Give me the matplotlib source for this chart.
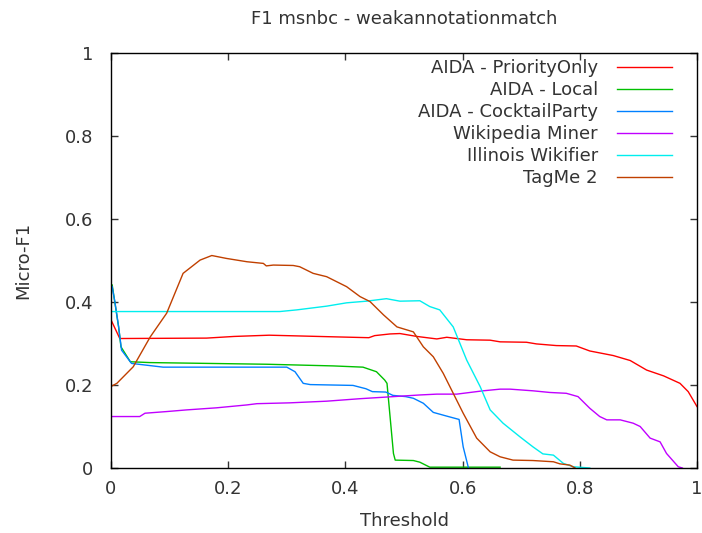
import matplotlib
matplotlib.use("Agg")
import matplotlib.pyplot as plt
from matplotlib.ticker import FuncFormatter

plt.rcParams['font.family'] = ['DejaVu Sans']

title = "F1 msnbc - weakannotationmatch"
xlabel = "Threshold"
ylabel = "Micro-F1"
labels = ["AIDA - PriorityOnly", "AIDA - Local", "AIDA - CocktailParty",
          "Wikipedia Miner", "Illinois Wikifier", "TagMe 2"]
colors = ["#ff0000", "#00c000", "#0080ff", "#c000ff", "#00eeee", "#c04000"]
ticks = [0, 0.2, 0.4, 0.6, 0.8, 1]

prio_x = [0.0, 0.015, 0.163, 0.21, 0.27, 0.382, 0.44, 0.45, 0.476, 0.493, 0.522,
          0.556, 0.573, 0.607, 0.647, 0.664, 0.709, 0.726, 0.76, 0.794, 0.817,
          0.857, 0.886, 0.914, 0.943, 0.971, 0.985, 1.0]
prio_y = [0.357, 0.312, 0.313, 0.317, 0.320, 0.316, 0.314, 0.319, 0.323, 0.324, 0.317,
          0.311, 0.315, 0.309, 0.308, 0.304, 0.303, 0.299, 0.295, 0.294, 0.282,
          0.271, 0.259, 0.236, 0.222, 0.204, 0.184, 0.148]

local_x = [0.002, 0.013, 0.017, 0.033, 0.067, 0.266, 0.379, 0.43, 0.453, 0.467, 0.471,
           0.482, 0.485, 0.516, 0.527, 0.544, 0.664]
local_y = [0.441, 0.340, 0.292, 0.256, 0.254, 0.250, 0.246, 0.243, 0.232, 0.212, 0.204,
           0.035, 0.019, 0.018, 0.014, 0.002, 0.002]

cock_x = [0.002, 0.007, 0.013, 0.018, 0.035, 0.089, 0.30, 0.314, 0.328, 0.34, 0.413,
          0.435, 0.446, 0.469, 0.481, 0.503, 0.516, 0.533, 0.55, 0.573, 0.594, 0.601, 0.61]
cock_y = [0.437, 0.397, 0.340, 0.284, 0.252, 0.243, 0.243, 0.232, 0.204, 0.201, 0.199,
          0.191, 0.184, 0.183, 0.175, 0.172, 0.168, 0.156, 0.134, 0.125, 0.117, 0.051, 0.0]

wm_x = [0.002, 0.049, 0.058, 0.095, 0.129, 0.18, 0.232, 0.249, 0.305, 0.368, 0.425,
        0.482, 0.527, 0.556, 0.59, 0.635, 0.664, 0.681, 0.72, 0.749, 0.777, 0.797,
        0.817, 0.834, 0.846, 0.869, 0.891, 0.903, 0.92, 0.937, 0.948, 0.968, 0.975]
wm_y = [0.124, 0.124, 0.132, 0.136, 0.140, 0.145, 0.152, 0.155, 0.157, 0.161, 0.167,
        0.172, 0.176, 0.178, 0.178, 0.186, 0.190, 0.190, 0.186, 0.182, 0.180, 0.172,
        0.144, 0.124, 0.116, 0.116, 0.108, 0.100, 0.072, 0.063, 0.035, 0.003, 0.0]

ill_x = [0.0, 0.288, 0.317, 0.368, 0.402, 0.436, 0.47, 0.493, 0.527, 0.544, 0.561,
         0.584, 0.607, 0.63, 0.647, 0.669, 0.698, 0.72, 0.737, 0.755, 0.772, 0.789, 0.817]
ill_y = [0.377, 0.377, 0.381, 0.390, 0.398, 0.402, 0.408, 0.402, 0.403, 0.389, 0.381,
         0.340, 0.260, 0.196, 0.140, 0.108, 0.075, 0.051, 0.034, 0.031, 0.011, 0.003, 0.0]

tag_x = [0.002, 0.01, 0.038, 0.067, 0.095, 0.123, 0.152, 0.172, 0.197, 0.232, 0.26,
         0.265, 0.277, 0.311, 0.322, 0.345, 0.368, 0.402, 0.425, 0.442, 0.465, 0.488,
         0.516, 0.533, 0.55, 0.567, 0.584, 0.601, 0.624, 0.647, 0.664, 0.686, 0.72,
         0.755, 0.766, 0.783, 0.792]
tag_y = [0.198, 0.204, 0.244, 0.316, 0.373, 0.469, 0.501, 0.512, 0.505, 0.497, 0.493,
         0.487, 0.489, 0.488, 0.485, 0.469, 0.461, 0.437, 0.413, 0.401, 0.369, 0.340,
         0.328, 0.292, 0.268, 0.228, 0.180, 0.132, 0.072, 0.039, 0.027, 0.019, 0.018,
         0.015, 0.010, 0.007, 0.0]

series = [(prio_x, prio_y), (local_x, local_y), (cock_x, cock_y),
          (wm_x, wm_y), (ill_x, ill_y), (tag_x, tag_y)]

FS = 13
TXT = '#333333'

fig = plt.figure(figsize=(7.02, 5.33), dpi=100)
ax = fig.add_axes([111/702, 65/533, 586/702, 415/533])

for (xs, ys), lab, c in zip(series, labels, colors):
    ax.plot(xs, ys, color=c, lw=1.0, label=lab)

ax.set_xlim(0, 1)
ax.set_ylim(0, 1)
ax.set_xticks(ticks)
ax.set_yticks(ticks)
fmt = FuncFormatter(lambda v, p: "%g" % v)
ax.xaxis.set_major_formatter(fmt)
ax.yaxis.set_major_formatter(fmt)
ax.tick_params(direction='in', length=5, width=1, top=True, right=True,
               labelsize=FS, colors=TXT, pad=9)
ax.tick_params(axis='y', pad=13)
for s in ax.spines.values():
    s.set_linewidth(1.0)
    s.set_color('black')

ax.set_title(title, fontsize=FS, color=TXT, pad=21)
ax.set_xlabel(xlabel, fontsize=FS, color=TXT, labelpad=10)
ax.set_ylabel(ylabel, fontsize=FS, color=TXT, labelpad=23)

leg = ax.legend(loc='upper right', markerfirst=False, frameon=False, fontsize=FS,
                handlelength=3.05, handletextpad=1.05, labelspacing=0.22,
                borderaxespad=0.0, borderpad=0.0, bbox_to_anchor=(0.957, 0.985))
for t in leg.get_texts():
    t.set_color(TXT)

fig.savefig("out.png", dpi=100)
